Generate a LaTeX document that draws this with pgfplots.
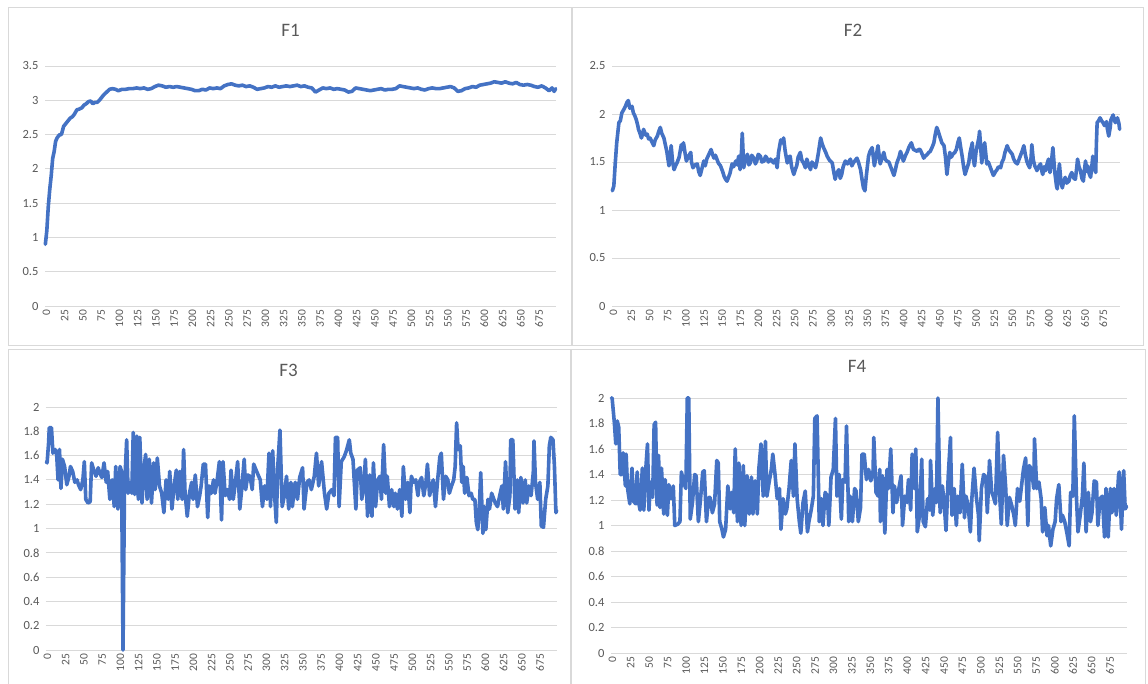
\documentclass[border=0pt]{standalone}
\usepackage{fontspec}
\setmainfont{Carlito}
\usepackage{pgfplots}
\pgfplotsset{compat=1.18}

\definecolor{xlblue}{HTML}{4472C4}
\definecolor{xlgrid}{HTML}{D9D9D9}
\definecolor{xltext}{HTML}{595959}

\pgfplotsset{
  xlchart/.style={
    scale only axis,
    anchor=south west,
    xmin=-0.5, xmax=699.5,
    xtick={0,25,...,675},
    axis line style={draw=none},
    major tick length=0pt,
    ymajorgrids,
    grid style={xlgrid, line width=0.9pt},
    clip=false,
    /pgf/number format/assume math mode=true,
    /pgf/number format/fixed,
    /pgf/number format/precision=1,
    yticklabel style={font=\fontsize{12.5}{12.5}\selectfont, text=xltext, anchor=east, xshift=-3pt},
    xticklabel style={font=\fontsize{11.5}{11.5}\selectfont, text=xltext, rotate=90, anchor=east, yshift=-1pt},
    title style={font=\fontsize{19}{19}\selectfont, text=xltext, anchor=center, at={(0.5,1)}},
  },
  xlline/.style={xlblue, line width=3.6pt, line join=round, line cap=round, no marks},
}

\begin{document}
\begin{tikzpicture}
\fill[white] (0,0) rectangle (1148pt,684pt);
\useasboundingbox (0,0) rectangle (1148pt,684pt);
% chart area frames
\draw[xlgrid, line width=1pt] (8pt,676pt) rectangle (571pt,338pt);
\draw[xlgrid, line width=1pt] (572pt,676pt) rectangle (1143pt,338pt);
\draw[xlgrid, line width=1pt] (8pt,-5pt) -- (8pt,334pt) -- (570pt,334pt) -- (570pt,-5pt);
\draw[xlgrid, line width=1pt] (571pt,-5pt) -- (571pt,334pt) -- (1145pt,334pt) -- (1145pt,-5pt);

% ---- F1
\begin{axis}[xlchart, at={(45pt,378pt)}, width=511pt, height=240pt,
  ymin=0, ymax=3.5, ytick={0,0.5,1,1.5,2,2.5,3,3.5},
  title={F1}, title style={xshift=-10pt, yshift=30pt}]
\addplot[xlline] table {
0 0.90
2 1.10
4 1.45
6 1.70
8 1.90
10 2.15
12 2.25
14 2.40
16 2.45
18 2.48
20 2.50
22 2.50
25 2.62
28 2.66
31 2.70
34 2.74
37 2.76
40 2.80
43 2.86
46 2.87
50 2.89
53 2.93
56 2.95
59 2.98
62 2.99
65 2.95
68 2.97
71 2.97
74 3.00
77 3.04
80 3.08
84 3.12
88 3.16
92 3.17
96 3.16
100 3.14
105 3.16
110 3.16
115 3.17
120 3.17
125 3.18
130 3.17
135 3.18
140 3.16
145 3.17
150 3.20
155 3.22
160 3.21
165 3.19
170 3.20
175 3.19
180 3.20
185 3.19
190 3.18
195 3.17
200 3.16
205 3.14
210 3.14
215 3.16
220 3.15
225 3.18
230 3.17
235 3.18
240 3.17
245 3.21
250 3.23
255 3.24
260 3.22
265 3.21
270 3.22
275 3.20
280 3.21
285 3.19
290 3.16
295 3.17
300 3.18
305 3.20
310 3.19
315 3.21
320 3.19
325 3.20
330 3.21
335 3.20
340 3.21
345 3.22
350 3.20
355 3.21
360 3.19
365 3.18
370 3.12
375 3.15
380 3.18
385 3.17
390 3.18
395 3.16
400 3.17
405 3.16
410 3.15
415 3.12
420 3.13
425 3.18
430 3.17
435 3.16
440 3.15
445 3.14
450 3.15
455 3.16
460 3.17
465 3.15
470 3.16
475 3.16
480 3.17
485 3.21
490 3.20
495 3.19
500 3.18
505 3.17
510 3.18
515 3.16
520 3.15
525 3.17
530 3.18
535 3.17
540 3.17
545 3.18
550 3.19
555 3.20
560 3.18
565 3.13
570 3.14
575 3.17
580 3.18
585 3.20
590 3.19
595 3.22
600 3.23
605 3.24
610 3.25
615 3.27
620 3.26
625 3.25
630 3.27
635 3.25
640 3.24
645 3.26
650 3.23
655 3.22
660 3.23
665 3.22
670 3.20
675 3.19
680 3.21
685 3.18
690 3.14
694 3.18
697 3.13
699 3.17
};
\end{axis}

% ---- F2
\begin{axis}[xlchart, at={(612pt,378pt)}, width=508pt, height=240pt,
  ymin=0, ymax=2.5, ytick={0,0.5,1,1.5,2,2.5},
  title={F2}, title style={xshift=-13pt, yshift=30pt}]
\addplot[xlline] table {
0 1.20
2 1.25
4 1.49
6 1.70
9 1.91
11 1.93
13 2.01
16 2.05
18 2.08
20 2.12
22 2.14
24 2.06
27 2.08
29 2.01
31 1.98
33 1.94
35 1.88
36 1.84
38 1.80
40 1.75
42 1.80
43 1.84
46 1.78
48 1.79
50 1.74
52 1.75
55 1.70
57 1.67
59 1.73
62 1.77
64 1.82
66 1.86
68 1.80
71 1.75
73 1.68
75 1.61
78 1.46
80 1.58
81 1.67
83 1.50
85 1.42
87 1.46
89 1.49
92 1.55
95 1.68
97 1.63
98 1.70
100 1.60
102 1.51
105 1.56
108 1.60
109 1.50
111 1.44
114 1.47
117 1.48
119 1.40
121 1.36
124 1.45
126 1.51
128 1.46
130 1.53
133 1.58
136 1.63
138 1.58
140 1.54
142 1.57
144 1.53
146 1.49
149 1.46
152 1.40
154 1.35
156 1.32
158 1.30
160 1.34
162 1.38
165 1.48
167 1.45
170 1.51
172 1.47
174 1.56
176 1.42
178 1.62
179 1.80
181 1.44
183 1.52
186 1.58
188 1.47
190 1.49
192 1.57
195 1.54
197 1.48
199 1.51
201 1.58
204 1.56
206 1.50
209 1.51
211 1.56
213 1.54
215 1.50
218 1.53
220 1.51
222 1.49
225 1.53
227 1.44
229 1.60
232 1.73
234 1.70
236 1.75
238 1.62
241 1.49
243 1.55
245 1.56
247 1.45
250 1.37
252 1.42
254 1.46
256 1.55
259 1.60
261 1.52
264 1.48
266 1.44
268 1.53
270 1.48
273 1.42
275 1.50
277 1.48
280 1.44
282 1.51
284 1.60
287 1.75
289 1.69
291 1.65
294 1.60
296 1.56
299 1.52
303 1.49
305 1.40
307 1.32
309 1.38
312 1.42
314 1.33
316 1.37
318 1.45
321 1.51
324 1.48
328 1.53
330 1.46
332 1.49
335 1.52
337 1.54
339 1.50
342 1.42
344 1.32
346 1.23
348 1.20
350 1.36
353 1.56
355 1.61
358 1.65
361 1.46
364 1.58
366 1.67
369 1.48
372 1.55
374 1.60
376 1.53
378 1.51
381 1.50
383 1.46
386 1.40
388 1.36
390 1.42
392 1.49
395 1.55
397 1.61
399 1.56
401 1.51
404 1.57
406 1.60
409 1.66
412 1.70
414 1.65
415 1.63
418 1.62
420 1.61
422 1.63
424 1.63
427 1.58
429 1.54
431 1.56
434 1.58
436 1.60
438 1.61
441 1.66
443 1.70
445 1.79
447 1.86
449 1.82
451 1.77
454 1.70
457 1.67
459 1.55
461 1.37
463 1.50
465 1.60
467 1.55
469 1.58
472 1.60
474 1.63
476 1.70
478 1.75
480 1.65
482 1.56
484 1.45
486 1.37
488 1.42
491 1.49
493 1.60
496 1.70
497 1.55
499 1.46
501 1.60
503 1.68
505 1.75
506 1.82
508 1.60
509 1.49
511 1.62
513 1.70
515 1.55
516 1.48
518 1.50
521 1.44
523 1.40
525 1.36
528 1.40
530 1.42
532 1.45
535 1.44
537 1.50
539 1.53
541 1.60
544 1.67
546 1.63
548 1.61
551 1.58
553 1.53
555 1.50
558 1.48
560 1.52
562 1.56
565 1.62
567 1.67
569 1.58
571 1.51
573 1.47
575 1.44
577 1.55
578 1.68
580 1.52
582 1.46
584 1.43
585 1.41
588 1.46
590 1.48
592 1.40
593 1.37
595 1.45
597 1.41
599 1.48
601 1.53
603 1.39
605 1.50
607 1.65
609 1.45
610 1.37
612 1.25
613 1.22
615 1.40
616 1.48
618 1.30
620 1.23
622 1.30
624 1.34
626 1.28
629 1.30
631 1.36
633 1.39
636 1.33
638 1.32
640 1.45
641 1.53
643 1.45
645 1.41
647 1.33
649 1.30
651 1.45
652 1.51
654 1.40
655 1.46
657 1.38
659 1.34
661 1.48
662 1.56
664 1.45
666 1.39
667 1.70
668 1.91
670 1.93
672 1.96
674 1.93
676 1.91
678 1.88
681 1.92
682 1.85
684 1.77
686 1.86
687 1.94
690 1.99
691 1.96
693 1.91
695 1.94
696 1.96
698 1.90
699 1.84
};
\end{axis}

% ---- F3
\begin{axis}[xlchart, at={(46pt,34pt)}, width=511pt, height=243pt,
  ymin=0, ymax=2, ytick={0,0.2,0.4,0.6,0.8,1,1.2,1.4,1.6,1.8,2},
  title={F3}, title style={xshift=-13pt, yshift=31pt}]
\addplot[xlline] table {
0 1.55
1 1.54
3 1.70
4 1.83
7 1.83
9 1.62
12 1.65
14 1.62
16 1.40
18 1.65
20 1.33
22 1.57
25 1.51
28 1.36
31 1.43
33 1.51
36 1.47
39 1.38
42 1.40
44 1.36
47 1.32
50 1.40
52 1.55
54 1.24
57 1.21
60 1.22
62 1.54
65 1.48
68 1.43
71 1.50
73 1.46
76 1.42
79 1.54
82 1.38
84 1.47
87 1.24
90 1.40
93 1.18
95 1.51
98 1.16
101 1.51
103 1.47
105 0.00
107 1.32
110 1.73
112 1.29
115 1.38
117 1.29
119 1.79
121 1.28
124 1.76
126 1.24
128 1.75
131 1.21
134 1.51
136 1.61
138 1.24
141 1.57
144 1.21
147 1.54
149 1.32
152 1.58
155 1.35
158 1.29
161 1.13
164 1.40
167 1.24
169 1.47
172 1.16
175 1.35
178 1.48
180 1.24
183 1.47
186 1.24
188 1.65
190 1.29
193 1.10
196 1.29
199 1.38
201 1.24
204 1.44
207 1.18
210 1.27
212 1.35
215 1.53
218 1.53
221 1.09
223 1.35
226 1.29
229 1.40
231 1.29
234 1.40
237 1.55
240 1.07
242 1.55
245 1.27
248 1.32
251 1.24
253 1.48
256 1.24
259 1.38
262 1.55
265 1.16
268 1.35
271 1.57
273 1.32
276 1.44
279 1.43
282 1.32
284 1.53
288 1.47
293 1.40
296 1.18
299 1.35
302 1.24
305 1.62
307 1.18
310 1.64
313 1.24
315 1.05
317 1.51
320 1.81
323 1.18
326 1.27
329 1.43
332 1.16
335 1.38
337 1.18
340 1.35
341 1.38
344 1.24
347 1.42
351 1.50
353 1.16
357 1.38
360 1.40
363 1.32
367 1.43
370 1.62
373 1.35
377 1.55
381 1.29
384 1.16
387 1.29
391 1.32
394 1.27
396 1.75
399 1.75
401 1.18
404 1.55
408 1.59
411 1.64
415 1.73
417 1.62
420 1.57
424 1.16
426 1.48
430 1.50
432 1.24
435 1.35
437 1.57
440 1.10
443 1.44
446 1.10
448 1.54
451 1.18
454 1.40
457 1.43
459 1.24
462 1.69
465 1.29
467 1.43
470 1.18
473 1.32
476 1.18
478 1.29
481 1.16
484 1.32
487 1.10
489 1.51
492 1.24
495 1.38
498 1.13
500 1.43
503 1.38
506 1.40
509 1.27
511 1.38
514 1.42
517 1.27
520 1.38
522 1.53
525 1.27
528 1.36
530 1.40
533 1.18
536 1.40
539 1.59
541 1.62
544 1.24
547 1.43
550 1.40
552 1.29
555 1.35
558 1.40
560 1.51
562 1.87
564 1.65
567 1.68
569 1.38
571 1.51
573 1.29
576 1.42
579 1.27
582 1.29
584 1.24
587 1.24
589 1.05
591 0.99
593 1.16
595 1.46
598 0.96
600 1.18
602 0.99
605 1.24
607 1.16
610 1.29
613 1.24
615 1.21
618 1.18
621 1.27
624 1.35
626 1.16
629 1.55
632 1.13
635 1.27
636 1.73
639 1.73
642 1.16
645 1.40
647 1.13
650 1.42
653 1.21
656 1.40
658 1.21
661 1.35
664 1.27
667 1.46
668 1.72
670 1.38
673 1.24
676 1.38
678 1.02
681 1.01
684 1.24
687 1.35
689 1.68
691 1.75
694 1.73
696 1.51
698 1.13
699 1.15
};
\end{axis}

% ---- F4
\begin{axis}[xlchart, at={(611pt,31pt)}, width=516pt, height=255pt,
  ymin=0, ymax=2, ytick={0,0.2,0.4,0.6,0.8,1,1.2,1.4,1.6,1.8,2},
  title={F4}, title style={xshift=-12pt, yshift=26pt}]
\addplot[xlline] table {
0 2.00
1 2.00
4 1.81
6 1.64
8 1.82
10 1.77
12 1.40
14 1.40
16 1.57
19 1.31
20 1.56
22 1.29
25 1.17
28 1.45
30 1.19
33 1.17
35 1.42
37 1.18
39 1.12
42 1.45
44 1.12
47 1.47
49 1.64
51 1.12
53 1.34
56 1.22
58 1.79
60 1.81
62 1.16
64 1.55
66 1.14
68 1.45
71 1.09
73 1.36
76 1.08
78 1.32
81 1.21
84 1.31
86 1.00
90 1.01
93 1.03
95 1.42
98 1.34
101 1.29
103 2.00
105 2.00
107 1.05
110 1.18
113 1.40
115 1.39
118 1.03
121 1.21
124 1.42
126 1.43
129 1.03
132 1.22
134 1.22
137 1.10
140 1.17
143 1.51
145 1.49
147 1.03
150 0.97
152 0.91
155 0.97
158 1.31
161 1.13
163 1.26
166 1.10
168 1.60
171 1.03
173 1.49
176 1.00
179 1.47
181 1.00
184 1.39
187 1.09
190 1.38
192 1.09
195 1.35
198 1.09
200 1.44
203 1.64
206 1.23
209 1.66
211 1.23
214 1.34
217 1.44
219 1.56
222 1.40
225 1.21
228 1.29
230 0.97
233 1.21
236 1.09
238 1.13
241 1.29
244 1.51
247 1.23
249 1.64
252 1.21
255 1.03
257 0.94
260 1.18
263 1.27
266 0.95
268 1.03
271 1.12
274 1.23
276 1.84
279 1.86
282 1.03
285 1.21
287 1.00
290 1.26
293 1.23
295 1.00
298 1.38
301 1.44
304 1.84
306 1.23
309 1.40
312 1.05
314 1.36
317 1.34
319 1.78
322 1.03
324 1.23
327 1.03
330 1.29
332 1.27
335 1.03
338 1.14
340 1.56
343 1.56
346 1.36
349 1.44
352 1.35
355 1.43
356 1.69
359 1.26
362 1.23
364 1.44
365 1.03
368 1.39
371 0.94
374 1.44
376 1.29
379 1.60
382 1.10
384 1.31
387 1.18
390 1.29
393 1.39
395 1.00
398 1.23
401 1.18
403 1.36
406 1.12
408 1.56
411 1.29
413 1.60
415 0.95
418 1.08
421 1.52
423 1.03
426 0.99
429 1.21
432 1.12
433 1.51
436 1.08
439 1.29
441 1.18
443 2.00
446 1.10
449 1.31
451 1.21
454 0.96
457 1.39
460 1.69
462 1.08
465 1.29
468 1.00
470 1.23
473 1.10
476 1.48
479 1.06
481 1.23
484 1.16
487 0.95
489 1.21
492 1.45
495 1.23
498 1.08
499 0.88
502 1.29
505 1.40
508 1.38
510 1.10
513 1.51
516 1.26
518 1.23
521 1.17
524 1.73
527 1.21
529 1.01
532 1.55
535 1.29
537 1.00
540 1.22
543 1.16
546 1.08
548 1.00
551 1.29
554 1.19
556 1.29
559 1.44
562 1.53
565 1.00
567 1.47
570 1.44
573 1.29
574 1.68
577 1.29
580 1.34
583 1.21
585 0.95
588 1.14
591 0.92
593 1.00
596 0.84
599 0.97
602 1.03
604 1.21
607 1.32
610 1.03
612 1.08
615 1.03
618 0.94
621 0.84
623 1.26
626 1.23
628 1.86
631 1.21
633 0.95
636 1.08
639 1.23
641 1.49
644 0.95
647 1.26
650 1.03
652 1.10
655 1.35
658 1.34
660 1.00
663 1.21
666 1.23
669 0.91
671 1.29
674 0.91
677 1.29
679 1.10
682 1.29
685 1.08
688 1.39
689 1.42
692 0.97
695 1.43
697 1.13
699 1.15
};
\end{axis}
\end{tikzpicture}
\end{document}
